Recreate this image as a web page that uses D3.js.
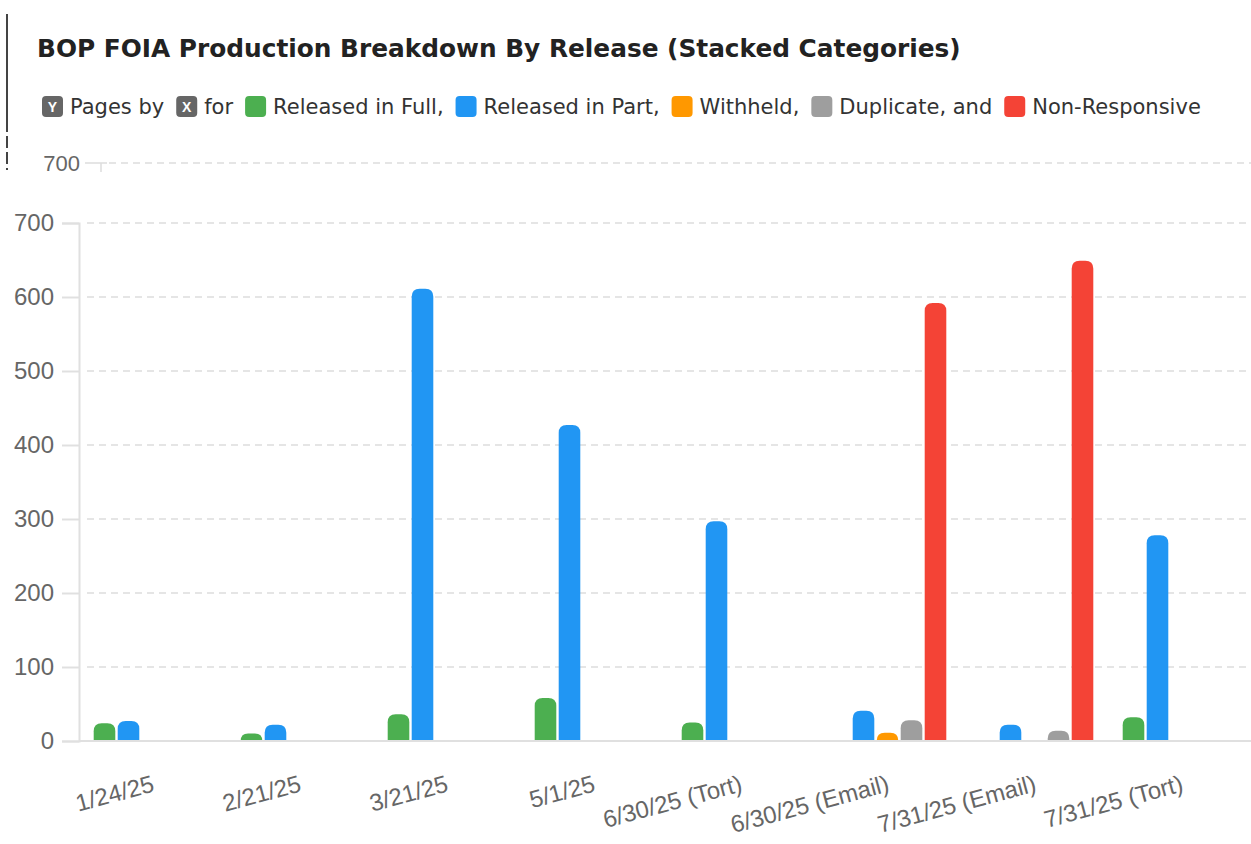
<!DOCTYPE html>
<html>
<head>
<meta charset="utf-8">
<script src="https://cdn.jsdelivr.net/npm/d3@7"></script>
<style>
  body { margin: 0; background: #fff; }
  svg { display: block; font-family: "Liberation Sans", Arial, sans-serif; }
</style>
</head>
<body>
<svg id="chart" width="1251" height="844"></svg>
<script>
// releases along the x axis
var releases = ["1/24/25", "2/21/25", "3/21/25", "5/1/25", "6/30/25 (Tort)", "6/30/25 (Email)", "7/31/25 (Email)", "7/31/25 (Tort)"];
var categories = ["Released in Full", "Released in Part", "Withheld", "Duplicate", "Non-Responsive"];
var catColors = ["#4caf50", "#2196f3", "#ff9800", "#9e9e9e", "#f44336"];

// pages per category, one value per release
var releasedFull  = [24, 10, 36, 58, 25, 1, 0, 32];
var releasedPart  = [27, 22, 611, 427, 297, 41, 22, 278];
var withheld      = [0, 0, 0, 0, 0, 11, 0, 0];
var duplicate     = [0, 0, 0, 1, 0, 28, 14, 0];
var nonResponsive = [0, 0, 0, 0, 0, 592, 649, 0];

var yTicks = [0, 100, 200, 300, 400, 500, 600, 700];

var series = [releasedFull, releasedPart, withheld, duplicate, nonResponsive];

var svg = d3.select("#chart");

// left frame line (screenshot edge)
svg.append("line")
  .attr("x1", 7).attr("x2", 7).attr("y1", 14).attr("y2", 120)
  .style("stroke", "#444").style("stroke-width", 2);
svg.append("line")
  .attr("x1", 7).attr("x2", 7).attr("y1", 120).attr("y2", 170)
  .style("stroke", "#444").style("stroke-width", 2)
  .style("stroke-dasharray", "12,4");

// title
svg.append("text")
  .attr("x", 37).attr("y", 57)
  .style("font-family", "'DejaVu Sans', sans-serif")
  .style("font-weight", 700)
  .style("font-size", "24.8px")
  .style("fill", "#222")
  .text("BOP FOIA Production Breakdown By Release (Stacked Categories)");

// legend sentence
var legendItems = [
  {icon: "Y", label: "Pages by"},
  {icon: "X", label: "for"},
  {color: catColors[0], label: "Released in Full,"},
  {color: catColors[1], label: "Released in Part,"},
  {color: catColors[2], label: "Withheld,"},
  {color: catColors[3], label: "Duplicate, and"},
  {color: catColors[4], label: "Non-Responsive"}
];

var legend = svg.append("g").attr("transform", "translate(42, 96)");
var lx = 0;
legendItems.forEach(function(d){
  var g = legend.append("g").attr("transform", "translate(" + lx + ",0)");
  g.append("rect")
    .attr("width", 21).attr("height", 21).attr("rx", 4)
    .attr("fill", d.icon ? "#666" : d.color);
  if (d.icon) {
    g.append("text")
      .attr("x", 10.5).attr("y", 16)
      .attr("text-anchor", "middle")
      .style("font-size", "14px").style("font-weight", 700)
      .style("fill", "#fff")
      .text(d.icon);
  }
  var t = g.append("text")
    .attr("x", 28).attr("y", 18)
    .style("font-family", "'DejaVu Sans', sans-serif")
    .style("font-size", "21px")
    .style("fill", "#333")
    .text(d.label);
  lx += 28 + t.node().getComputedTextLength() + 12;
});

// remnant of upper axis (cut-off chart header)
var topAxis = svg.append("g");
topAxis.append("text")
  .attr("x", 80).attr("y", 171)
  .attr("text-anchor", "end")
  .style("font-size", "22px").style("fill", "#666")
  .text("700");
topAxis.append("line")
  .attr("x1", 85).attr("x2", 107).attr("y1", 163).attr("y2", 163)
  .style("stroke", "#ddd").style("stroke-width", 1.5);
topAxis.append("line")
  .attr("x1", 101).attr("x2", 101).attr("y1", 163).attr("y2", 172)
  .style("stroke", "#ddd").style("stroke-width", 1.5);
topAxis.append("line")
  .attr("x1", 109).attr("x2", 1251).attr("y1", 163).attr("y2", 163)
  .style("stroke", "#ddd").style("stroke-width", 1.5)
  .style("stroke-dasharray", "7,5");

// main chart
var plotLeft = 79, plotRight = 1255, plotTop = 223, plotBottom = 741;

var x0 = d3.scaleBand()
  .domain(releases)
  .range([plotLeft, plotRight])
  .paddingInner(0.2)
  .paddingOuter(0.1);

var x1 = d3.scaleBand()
  .domain(categories)
  .range([0, x0.bandwidth()])
  .paddingInner(0.1);

var y = d3.scaleLinear()
  .domain([0, 700])
  .range([plotBottom, plotTop]);

// gridlines
svg.append("g")
  .selectAll("line")
  .data(yTicks.filter(function(d){ return d > 0; }))
  .enter()
  .append("line")
  .attr("x1", plotLeft + 8).attr("x2", 1251)
  .attr("y1", function(d){ return y(d); })
  .attr("y2", function(d){ return y(d); })
  .style("stroke", "#ddd").style("stroke-width", 1.5)
  .style("stroke-dasharray", "7,5");

// y axis
var yAxis = d3.axisLeft(y).tickValues(yTicks).tickSize(17).tickPadding(8);
var yG = svg.append("g")
  .attr("transform", "translate(" + plotLeft + ",0)")
  .call(yAxis);
yG.select(".domain").style("stroke", "#e0e0e0").style("stroke-width", 2);
yG.selectAll(".tick line").style("stroke", "#e0e0e0").style("stroke-width", 2);
yG.selectAll(".tick text")
  .style("font-size", "24px").style("fill", "#666")
  .style("font-family", "'Liberation Sans', Arial, sans-serif");

// bars, rounded tops
function barPath(x, w, top, bottom) {
  var h = bottom - top;
  var r = Math.min(8, w / 2, h);
  return "M" + x + "," + bottom +
    "V" + (top + r) +
    "Q" + x + "," + top + " " + (x + r) + "," + top +
    "H" + (x + w - r) +
    "Q" + (x + w) + "," + top + " " + (x + w) + "," + (top + r) +
    "V" + bottom + "Z";
}

var barData = [];
releases.forEach(function(rel, i){
  categories.forEach(function(cat, j){
    var v = series[j][i];
    if (v > 0) barData.push({release: rel, cat: cat, value: v, color: catColors[j]});
  });
});

svg.append("g")
  .selectAll("path")
  .data(barData)
  .enter()
  .append("path")
  .attr("d", function(d){
    return barPath(x0(d.release) + x1(d.cat), x1.bandwidth(), y(d.value), y(0));
  })
  .attr("fill", function(d){ return d.color; });

// x axis
var xAxis = d3.axisBottom(x0).tickSize(0);
var xG = svg.append("g")
  .attr("transform", "translate(0," + plotBottom + ")")
  .call(xAxis);
xG.select(".domain").attr("d", "M" + plotLeft + ",0H1251")
  .style("stroke", "#e0e0e0").style("stroke-width", 2);
xG.selectAll(".tick text")
  .style("font-size", "24px").style("fill", "#666")
  .style("font-family", "'Liberation Sans', Arial, sans-serif")
  .attr("text-anchor", "end")
  .attr("x", 0).attr("y", 0).attr("dy", 0)
  .attr("transform", "translate(3,50) rotate(-15)");
</script>
</body>
</html>
